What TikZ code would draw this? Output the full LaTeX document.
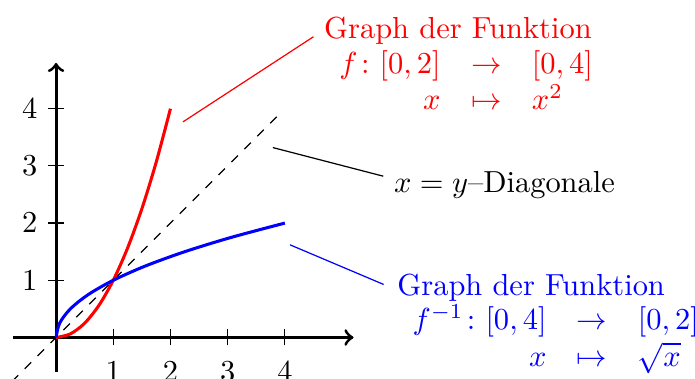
\documentclass[tikz,border=0pt]{standalone}
\usepackage{amsmath}
\begin{document}
\begin{tikzpicture}
[
    x=0.66cm, y=0.66cm,
    axis/.style={line width=1pt, ->},
    graph/.style={line width=1pt},
    connector/.style={thin},
    funclabel/.style={align=left}
]
    \clip (-0.98,-0.72) rectangle (11.17,5.9);
    % axes and ticks
    \draw [axis] (-0.75,0) -- (5.2,0);
    \draw [axis] (0,-0.6) -- (0,4.8);
    \foreach \t in {1,2,3,4} {
        \draw (\t,-0.14) -- (\t,0.14) node [below=2pt] at (\t,-0.14) {$\t$};
        \draw (-0.14,\t) -- (0.14,\t);
        \node [left] at (-0.14,\t) {$\t$};
    }
    % diagonal and graphs
    \draw [dashed, thin] (-1,-1) -- (3.92,3.92);
    \draw [graph, red] plot [smooth, domain=0:2, samples=9] (\x,{\x*\x});
    \draw [graph, blue] plot [smooth, domain=0:2, samples=9] ({\x*\x},\x);
    % labels
    \coordinate (redtip) at (2.22,3.77);
    \coordinate (diagtip) at (3.79,3.32);
    \coordinate (bluetip) at (4.09,1.62);
    \node [funclabel, red, anchor=north west] (redlabel) at (4.5,5.79)
        {Graph der Funktion\\
         $\begin{array}{rcl} f\colon [0,2] & \to & [0,4]\\ x & \mapsto & x^2 \end{array}$};
    \node [anchor=west] (diaglabel) at (5.72,2.66) {$x=y$--Diagonale};
    \node [funclabel, blue, anchor=north west] (bluelabel) at (5.78,1.3)
        {Graph der Funktion\\
         $\begin{array}{rcl} f^{-1}\colon [0,4] & \to & [0,2]\\ x & \mapsto & \sqrt{x} \end{array}$};
    \draw [connector, red] (redtip) -- ([yshift=-10pt]redlabel.north west);
    \draw [connector] (diagtip) -- ([yshift=3pt]diaglabel.west);
    \draw [connector, blue] (bluetip) -- ([xshift=-1pt,yshift=-7pt]bluelabel.north west);
\end{tikzpicture}
\end{document}
